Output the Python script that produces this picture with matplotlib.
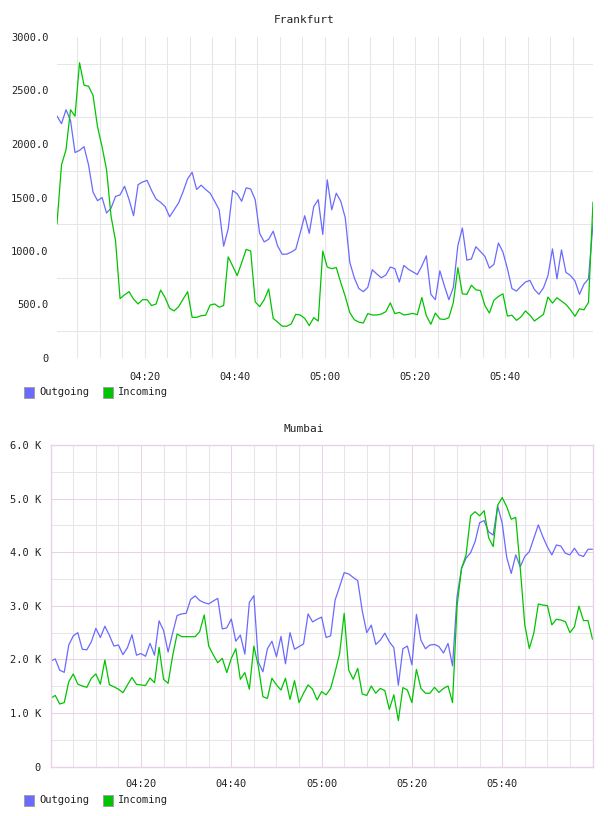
import numpy as np
import matplotlib
matplotlib.use("Agg")
import matplotlib.pyplot as plt
from matplotlib.patches import Rectangle

# ------------------------------------------------------------
# DATA (one sample per minute, 04:00 - 06:00)
# ------------------------------------------------------------

frankfurt_out = [
    2260, 2190, 2320, 2220, 1920, 1940, 1975, 1805, 1550, 1470,
    1500, 1355, 1400, 1510, 1525, 1605, 1480, 1330, 1620, 1645,
    1660, 1565, 1485, 1455, 1415, 1320, 1385, 1450, 1555, 1675,
    1735, 1575, 1615, 1575, 1540, 1465, 1385, 1045, 1205, 1565,
    1535, 1465, 1590, 1580, 1480, 1165, 1085, 1110, 1185, 1045,
    970, 970, 990, 1015, 1170, 1330, 1165, 1415, 1480, 1155,
    1665, 1385, 1540, 1465, 1310, 895, 750, 650, 620, 660,
    825, 785, 750, 775, 850, 835, 710, 865, 830, 805,
    780, 860, 955, 595, 545, 815, 675, 545, 660, 1050,
    1215, 915, 925, 1040, 995, 950, 840, 875, 1075, 990,
    835, 650, 625, 670, 710, 725, 640, 595, 655, 770,
    1020, 740, 1010, 800, 770, 720, 595, 690, 740, 1260,
]
frankfurt_in = [
    1255, 1805, 1945, 2320, 2260, 2760, 2550, 2540, 2455, 2160,
    1975, 1760, 1325, 1095, 555, 590, 620, 550, 505, 545,
    545, 490, 505, 635, 565, 465, 440, 480, 550, 620,
    380, 380, 395, 400, 495, 505, 475, 490, 945, 860,
    770, 890, 1015, 1000, 525, 480, 545, 645, 370, 335,
    297, 297, 318, 408, 402, 370, 303, 377, 345, 1000,
    850, 835, 845, 705, 575, 425, 358, 335, 327, 415,
    402, 402, 410, 433, 515, 415, 426, 402, 408, 417,
    405, 565, 395, 315, 420, 365, 360, 377, 520, 845,
    600, 595, 680, 637, 630, 490, 420, 540, 575, 600,
    392, 400, 352, 383, 440, 400, 346, 377, 408, 570,
    513, 563, 532, 500, 450, 390, 460, 450, 520, 1455,
]

mumbai_out = [
    1970, 2010, 1800, 1760, 2270, 2440, 2500, 2190, 2180, 2330,
    2580, 2410, 2620, 2450, 2250, 2270, 2090, 2220, 2460, 2080,
    2110, 2060, 2300, 2080, 2720, 2540, 2140, 2490, 2820, 2850,
    2860, 3120, 3185, 3100, 3060, 3035, 3090, 3140, 2570, 2590,
    2755, 2340, 2455, 2100, 3065, 3190, 1950, 1770, 2200, 2340,
    2050, 2430, 1920, 2500, 2190, 2240, 2290, 2850, 2700, 2750,
    2790, 2410, 2440, 3110, 3360, 3620, 3595, 3530, 3470, 2910,
    2500, 2640, 2280, 2360, 2490, 2330, 2220, 1520, 2200, 2250,
    1900, 2840, 2360, 2200, 2270, 2280, 2240, 2120, 2300, 1880,
    3170, 3700, 3890, 3990, 4200, 4550, 4590, 4380, 4320, 4860,
    4540, 3905, 3605, 3950, 3730, 3920, 4010, 4260, 4510, 4290,
    4100, 3950, 4135, 4115, 3980, 3950, 4075, 3950, 3920, 4055,
    4055,
]
mumbai_in = [
    1275, 1330, 1170, 1195, 1585, 1730, 1540, 1505, 1480, 1650,
    1730, 1540, 1990, 1530, 1490, 1445, 1380, 1525, 1665, 1535,
    1525, 1515, 1655, 1565, 2225, 1630, 1555, 2065, 2475, 2425,
    2425, 2425, 2425, 2520, 2830, 2250, 2085, 1940, 2020, 1755,
    2020, 2200, 1630, 1755, 1445, 2250, 1865, 1305, 1275, 1650,
    1525, 1430, 1650, 1255, 1605, 1195, 1370, 1525, 1445, 1245,
    1400, 1340, 1460, 1770, 2115, 2860, 1805, 1630, 1835, 1355,
    1330, 1505, 1370, 1460, 1420, 1070, 1340, 860, 1475, 1430,
    1195, 1815, 1460, 1370, 1370, 1480, 1385, 1460, 1505, 1195,
    3000, 3700, 3950, 4680, 4755, 4680, 4775, 4270, 4105, 4880,
    5020, 4850, 4615, 4650, 3700, 2645, 2205, 2490, 3035, 3015,
    3005, 2645, 2750, 2735, 2705, 2500, 2610, 2995, 2725, 2725,
    2380,
]

time_ticks = [20, 40, 60, 80, 100]          # minutes after 04:00
time_labels = ['04:20', '04:40', '05:00', '05:20', '05:40']

frankfurt_yticks = [0, 500, 1000, 1500, 2000, 2500, 3000]
frankfurt_ylabels = ['0', '500.0', '1000.0', '1500.0', '2000.0', '2500.0', '3000.0']
mumbai_yticks = [0, 1000, 2000, 3000, 4000, 5000, 6000]
mumbai_ylabels = ['0', '1.0 K', '2.0 K', '3.0 K', '4.0 K', '5.0 K', '6.0 K']

series_names = ['Outgoing', 'Incoming']

# ------------------------------------------------------------
# STYLE
# ------------------------------------------------------------

BLUE = '#6a6aff'
GREEN = '#00c400'
GRID = '#e6e6e6'
PURPLE = '#e8d2e8'
TXT = '#222222'

plt.rcParams['font.family'] = ['DejaVu Sans Mono', 'DejaVu Sans']
plt.rcParams['font.size'] = 7.5

W, H = 608, 816
fig = plt.figure(figsize=(W / 100, H / 100), dpi=100)
fig.patch.set_facecolor('white')


def legend(ypix):
    # small coloured boxes + names, like the original widget
    for x0, name, col in [(24, series_names[0], BLUE), (103, series_names[1], GREEN)]:
        fig.patches.append(Rectangle((x0 / W, 1 - (ypix + 6) / H), 10 / W, 11 / H,
                                     transform=fig.transFigure, facecolor=col,
                                     edgecolor='#a0a0a0', lw=0.7))
        fig.text((x0 + 15) / W, 1 - ypix / H, name, color=TXT,
                 va='center', ha='left', fontsize=7.5)


# ------------------------------------------------------------
# FRANKFURT
# ------------------------------------------------------------

t1 = 0.5 + np.arange(len(frankfurt_out))
ax1 = fig.add_axes([57 / W, 458 / H, 536 / W, 321 / H])
ax1.plot(t1, frankfurt_out, color=BLUE, lw=0.9)
ax1.plot(t1, frankfurt_in, color=GREEN, lw=0.9)
ax1.set_xlim(t1[0], t1[-1])
ax1.set_ylim(0, 3000)
ax1.set_xticks(time_ticks)
ax1.set_xticklabels(time_labels)
ax1.set_xticks(np.arange(5, 120, 5), minor=True)
ax1.set_yticks(frankfurt_yticks)
ax1.set_yticklabels(frankfurt_ylabels)
ax1.set_yticks(np.arange(250, 3000, 500), minor=True)
ax1.set_axisbelow(True)
ax1.xaxis.grid(True, which='both', color=GRID, lw=0.75)
ax1.yaxis.grid(True, which='minor', color=GRID, lw=0.75)
ax1.yaxis.grid(False, which='major')
for s in ax1.spines.values():
    s.set_visible(False)
ax1.tick_params(which='both', length=0, colors=TXT)
ax1.tick_params(axis='x', pad=10)
ax1.tick_params(axis='y', pad=6)
fig.text(0.5, 1 - 20 / H, 'Frankfurt', ha='center', va='center', color=TXT, fontsize=8)
legend(392)

# ------------------------------------------------------------
# MUMBAI
# ------------------------------------------------------------

t2 = np.arange(len(mumbai_out))
ax2 = fig.add_axes([50.7 / W, 49.3 / H, 541.8 / W, 321.7 / H])
ax2.plot(t2, mumbai_out, color=BLUE, lw=0.9)
ax2.plot(t2, mumbai_in, color=GREEN, lw=0.9)
ax2.set_xlim(0, 120)
ax2.set_ylim(0, 6000)
ax2.set_xticks(time_ticks)
ax2.set_xticklabels(time_labels)
ax2.set_xticks(np.arange(5, 120, 5), minor=True)
ax2.set_yticks(mumbai_yticks)
ax2.set_yticklabels(mumbai_ylabels)
ax2.set_yticks(np.arange(500, 6000, 1000), minor=True)
ax2.set_axisbelow(True)
ax2.grid(True, which='minor', color=GRID, lw=0.75)
ax2.grid(True, which='major', color=PURPLE, lw=0.75)
for s in ax2.spines.values():
    s.set_color(PURPLE)
    s.set_linewidth(1.0)
ax2.tick_params(which='both', length=0, colors=TXT)
ax2.tick_params(axis='x', pad=9)
ax2.tick_params(axis='y', pad=7)
fig.text(0.5, 1 - 429 / H, 'Mumbai', ha='center', va='center', color=TXT, fontsize=8)
legend(800)

fig.savefig('out.png', dpi=100, facecolor='white')
